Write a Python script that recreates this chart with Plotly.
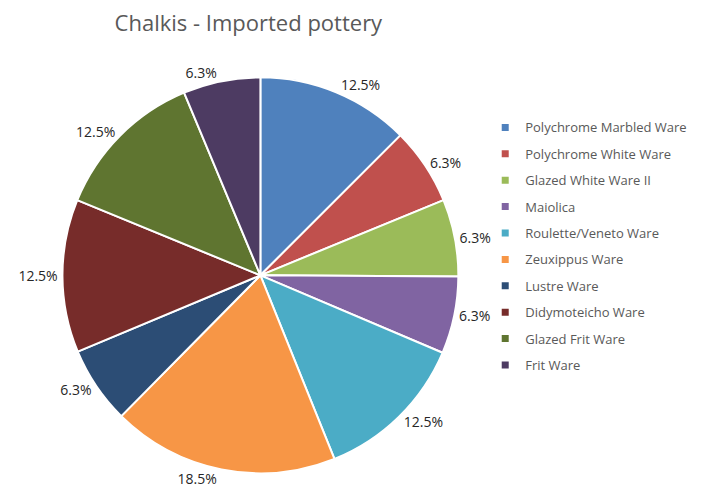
import plotly.graph_objects as go

labels = ["Polychrome Marbled Ware", "Polychrome White Ware", "Glazed White Ware II",
          "Maiolica", "Roulette/Veneto Ware", "Zeuxippus Ware", "Lustre Ware",
          "Didymoteicho Ware", "Glazed Frit Ware", "Frit Ware"]
values = [12.5, 6.3, 6.3, 6.3, 12.5, 18.5, 6.3, 12.5, 12.5, 6.3]
colors = ["#4F81BD", "#C0504D", "#9BBB59", "#8064A2", "#4BACC6",
          "#F79646", "#2C4D75", "#772C2A", "#5F7530", "#4D3B62"]

FONT = "Open Sans, Arial, sans-serif"

fig = go.Figure(go.Pie(
    labels=labels, values=values, sort=False, direction="clockwise", rotation=0,
    marker=dict(colors=colors, line=dict(color="white", width=2)),
    texttemplate="%{value}%", textposition="outside",
    textfont=dict(family=FONT, size=14, color="#262626"),
    domain=dict(x=[0.077, 0.637], y=[0.066, 0.869]),
    hoverinfo="label+percent", showlegend=False,
))
# legend entries (one per category) with Excel-like spacing
for lab, col in zip(labels, colors):
    fig.add_trace(go.Scatter(
        x=[None], y=[None], mode="markers", name=lab, legendgroup=lab,
        marker=dict(symbol="square", size=7, color=col),
        showlegend=True, hoverinfo="skip",
    ))
fig.update_layout(
    width=707, height=502,
    margin=dict(l=0, r=0, t=0, b=0),
    paper_bgcolor="white", plot_bgcolor="white",
    xaxis=dict(visible=False), yaxis=dict(visible=False),
    title=dict(text="Chalkis - Imported pottery", x=0.34, xanchor="center",
               y=0.969, yanchor="middle",
               font=dict(family=FONT, size=22, color="#595959")),
    legend=dict(x=0.675, y=0.525, xanchor="left", yanchor="middle",
                bgcolor="rgba(0,0,0,0)",
                font=dict(family=FONT, size=13, color="#595959"),
                traceorder="grouped", tracegroupgap=6.5, itemwidth=30),
    showlegend=True,
)
fig.write_html("out.html")
